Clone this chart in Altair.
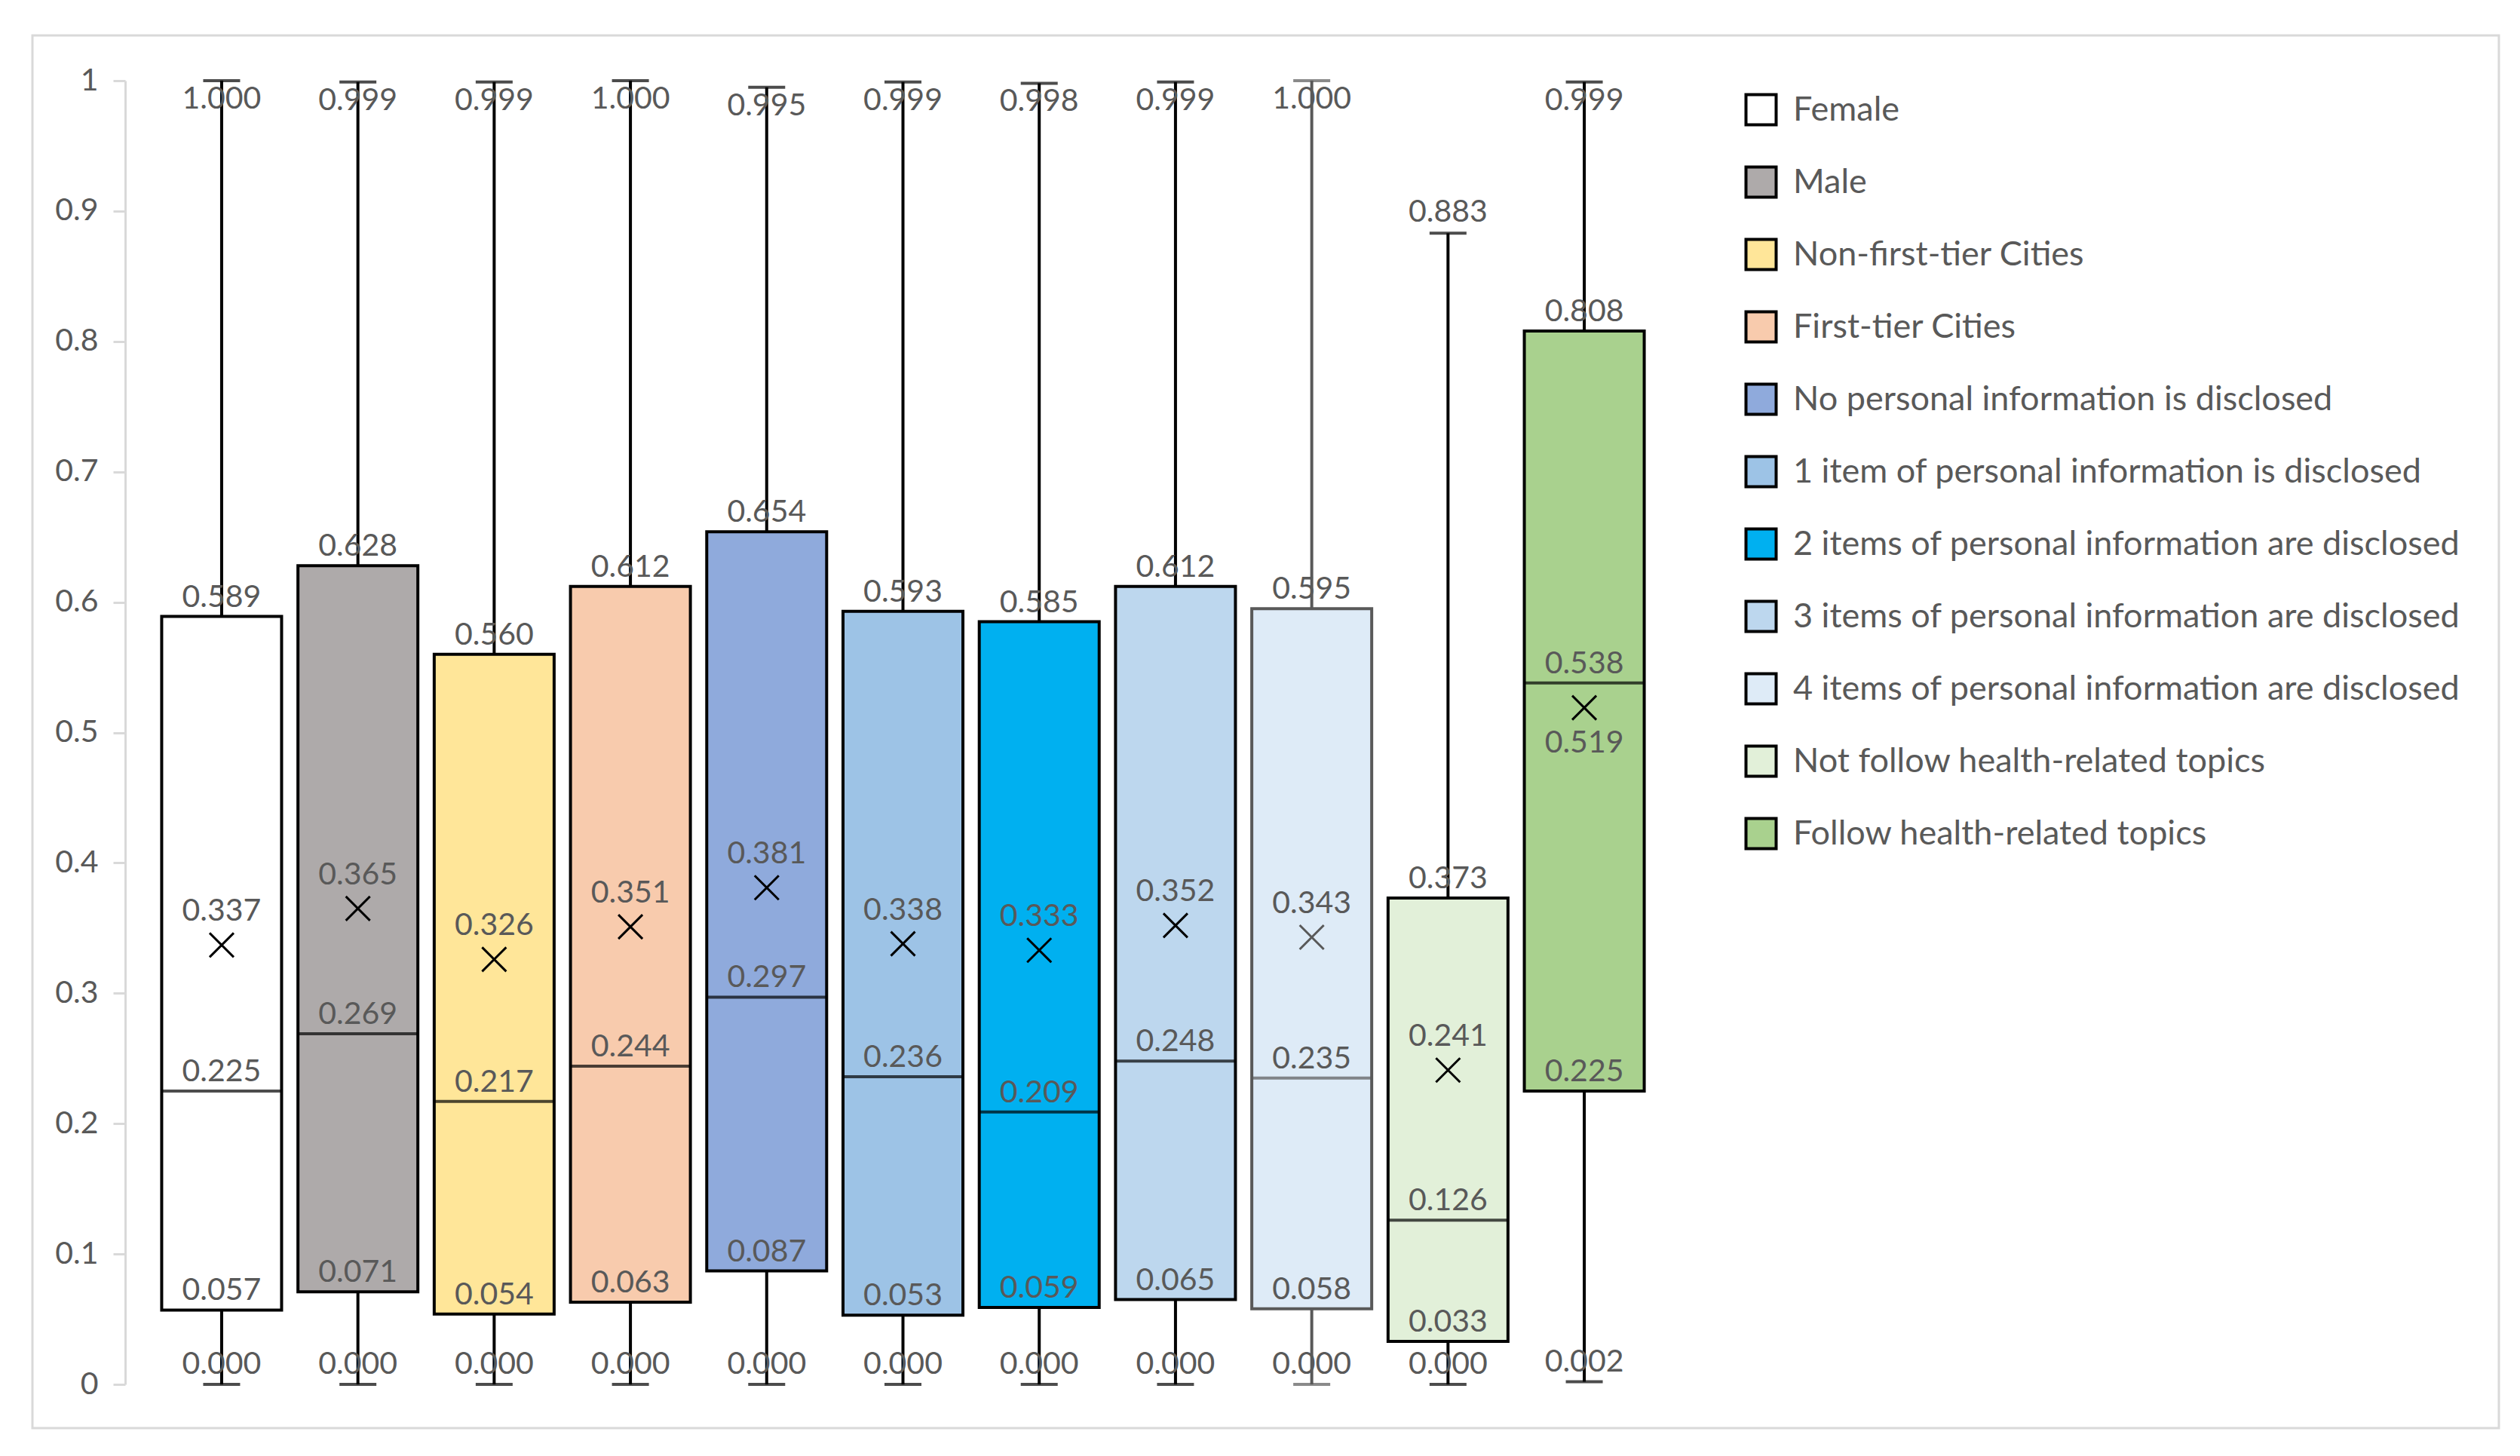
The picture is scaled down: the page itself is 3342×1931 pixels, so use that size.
import altair as alt
import pandas as pd

groups = [
    "Female",
    "Male",
    "Non-first-tier Cities",
    "First-tier Cities",
    "No personal information is disclosed",
    "1 item of personal information is disclosed",
    "2 items of personal information are disclosed",
    "3 items of personal information are disclosed",
    "4 items of personal information are disclosed",
    "Not follow health-related topics",
    "Follow health-related topics",
]
minimum = [0.000, 0.000, 0.000, 0.000, 0.000, 0.000, 0.000, 0.000, 0.000, 0.000, 0.002]
q1 = [0.057, 0.071, 0.054, 0.063, 0.087, 0.053, 0.059, 0.065, 0.058, 0.033, 0.225]
median = [0.225, 0.269, 0.217, 0.244, 0.297, 0.236, 0.209, 0.248, 0.235, 0.126, 0.538]
q3 = [0.589, 0.628, 0.560, 0.612, 0.654, 0.593, 0.585, 0.612, 0.595, 0.373, 0.808]
maximum = [1.000, 0.999, 0.999, 1.000, 0.995, 0.999, 0.998, 0.999, 1.000, 0.883, 0.999]
mean = [0.337, 0.365, 0.326, 0.351, 0.381, 0.338, 0.333, 0.352, 0.343, 0.241, 0.519]

fill_colors = ["#ffffff", "#aeaaaa", "#ffe699", "#f8cbad", "#8faadc", "#9dc3e6",
               "#00b0f0", "#bdd7ee", "#deebf7", "#e2f0d9", "#a9d18e"]
y_ticks = [0, 0.1, 0.2, 0.3, 0.4, 0.5, 0.6, 0.7, 0.8, 0.9, 1]

df = pd.DataFrame({
    "group": groups, "minimum": minimum, "q1": q1, "median": median,
    "q3": q3, "maximum": maximum, "mean": mean,
})

FONT = "Lato"
LABEL_COLOR = "#595959"
yscale = alt.Scale(domain=[0, 1], nice=False, zero=True)
xscale = alt.Scale(domain=groups, paddingInner=0.12, paddingOuter=0.268)

def Y(field):
    return alt.Y(f"{field}:Q", scale=yscale, title=None)

base = alt.Chart(df).transform_calculate(
    edge="datum.group === '4 items of personal information are disclosed' ? '#595959' : '#000000'"
).encode(x=alt.X("group:N", scale=xscale, axis=None, sort=groups))

edge = alt.Color("edge:N", scale=None)

frame = alt.Chart(alt.Data(values=[{"a": 1}])).mark_rect(
    fillOpacity=0, stroke="#d9d9d9", strokeWidth=3
).encode(x=alt.value(-123), x2=alt.value(3148), y=alt.value(-60), y2=alt.value(1787))

boxes = base.mark_bar(strokeWidth=4).encode(
    y=alt.Y("q1:Q", scale=yscale, title=None,
            axis=alt.Axis(values=y_ticks, format=".1~f", grid=False, title=None,
                          domainColor="#d9d9d9", domainWidth=3,
                          tickColor="#d9d9d9", tickWidth=3, tickSize=16,
                          labelFont=FONT, labelFontSize=41, labelColor=LABEL_COLOR,
                          labelPadding=20)),
    y2="q3:Q",
    fill=alt.Fill("group:N", scale=alt.Scale(domain=groups, range=fill_colors),
                  sort=groups,
                  legend=alt.Legend(title=None, orient="none", legendX=2147, legendY=16,
                                    symbolType="square", symbolSize=1600,
                                    symbolStrokeColor="#000000", symbolStrokeWidth=4,
                                    symbolOpacity=1,
                                    labelFont=FONT, labelFontSize=45, labelColor=LABEL_COLOR,
                                    labelOffset=20, rowPadding=39, padding=0,
                                    labelLimit=1500)),
    stroke=alt.Stroke("edge:N", scale=None),
)

medians = base.mark_tick(size=158, thickness=4).encode(y=Y("median"), color=edge)
upper = base.mark_rule(strokeWidth=4).encode(y=Y("q3"), y2="maximum:Q", color=edge)
lower = base.mark_rule(strokeWidth=4).encode(y=Y("minimum"), y2="q1:Q", color=edge)
cap_top = base.mark_tick(size=49, thickness=4).encode(y=Y("maximum"), color=edge)
cap_bot = base.mark_tick(size=49, thickness=4).encode(y=Y("minimum"), color=edge)
means = base.mark_point(shape="M-1,-1L1,1M-1,1L1,-1", size=1024, strokeWidth=3,
                        filled=False, opacity=1).encode(y=Y("mean"), stroke=edge)

def label(field, dy, flt=None):
    c = base
    if flt:
        c = c.transform_filter(flt)
    return c.mark_text(font=FONT, fontSize=41, color=LABEL_COLOR, dy=dy,
                       align="center", baseline="middle").encode(
        y=Y(field), text=alt.Text(f"{field}:Q", format=".3f"))

labels = [
    label("maximum", 25, "datum.maximum > 0.95"),
    label("maximum", -27, "datum.maximum <= 0.95"),
    label("q3", -25),
    label("median", -25),
    label("q1", -25),
    label("minimum", -26),
    label("mean", 47, "datum.mean < datum.median && datum.median - datum.mean < 0.05"),
    label("mean", -44, "!(datum.mean < datum.median && datum.median - datum.mean < 0.05)"),
]

chart = alt.layer(frame, boxes, medians, upper, lower, cap_top, cap_bot, means, *labels).properties(
    width=2063, height=1729,
    autosize=alt.AutoSizeParams(type="none"),
    padding={"left": 158, "top": 99, "right": 1100, "bottom": 80},
).configure(background="#ffffff").configure_view(strokeWidth=0)

chart.save("out.html", embed_options={"renderer": "svg", "actions": False})
